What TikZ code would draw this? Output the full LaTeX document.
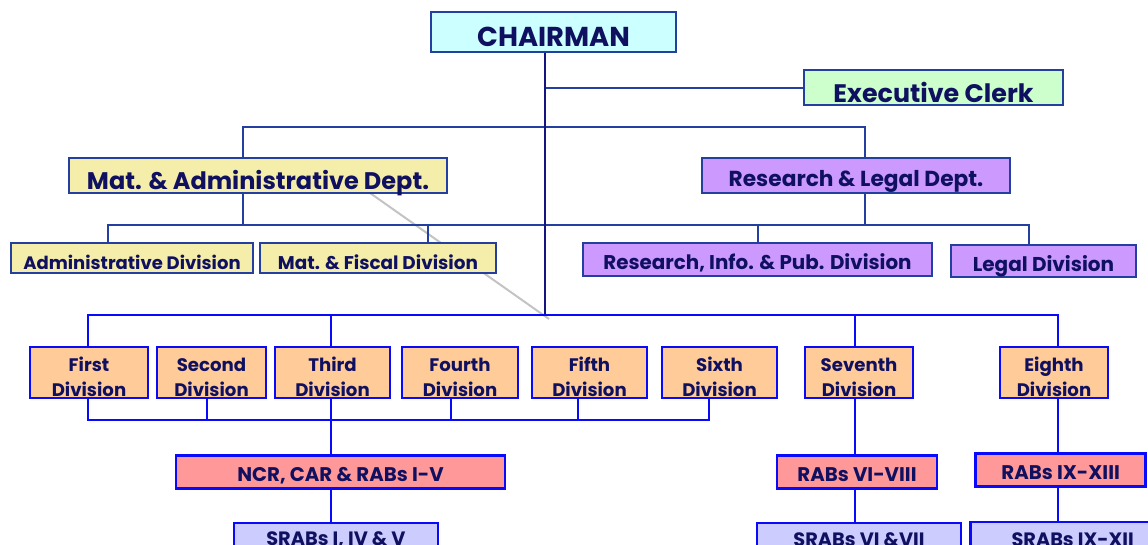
\documentclass[tikz,border=0pt]{standalone}
\usepackage{fontspec}
\setmainfont{Poppins}
\usetikzlibrary{positioning}

\definecolor{ink}{RGB}{16,16,96}
\definecolor{upline}{RGB}{35,64,160}
\definecolor{trunkline}{RGB}{20,20,130}
\definecolor{lowline}{RGB}{10,10,250}
\definecolor{stray}{RGB}{195,195,195}
\definecolor{chairfill}{HTML}{CCFFFF}
\definecolor{clerkfill}{HTML}{CCFFCC}
\definecolor{matfill}{HTML}{F5EEAA}
\definecolor{resfill}{HTML}{CC99FF}
\definecolor{divfill}{HTML}{FFCC99}
\definecolor{rabfill}{HTML}{FF9999}
\definecolor{srabfill}{HTML}{CCCCFF}

\begin{document}
\begin{tikzpicture}[
    x=0.75pt, y=0.75pt,
    box/.style={
        rectangle,
        draw=upline, line width=1.5pt,
        text=ink, text centered,
        inner sep=0pt
    },
    sink/.style={text depth=0pt, text height=#1},
    lowbox/.style={box, draw=lowline, line width=1.8pt},
    dept/.style={box, minimum height=26.25pt, font=\bfseries\fontsize{18}{21}\selectfont},
    unit/.style={box, font=\bfseries\fontsize{13.5}{16}\selectfont},
    divbox/.style={lowbox, fill=divfill, align=center, minimum height=38.25pt,
        sink=36pt, font=\bfseries\fontsize{13.6}{18.5}\selectfont},
    rabbox/.style={lowbox, fill=rabfill, minimum height=24.75pt, sink=14.9pt,
        font=\bfseries\fontsize{14.8}{17}\selectfont},
    srabbox/.style={lowbox, fill=srabfill, minimum width=153pt, minimum height=26pt,
        font=\bfseries\fontsize{14.5}{17}\selectfont},
    upwire/.style={draw=upline, line width=1.5pt},
    lowwire/.style={draw=lowline, line width=1.8pt}
]

\useasboundingbox (0,0) rectangle (1148,-544);

\draw[stray, line width=1.5pt] (370,-193) -- (549,-319);

\node[box, fill=chairfill, minimum width=183.75pt, minimum height=30pt, sink=21pt,
    font=\bfseries\fontsize{20.5}{24}\selectfont] (chair) at (553.5,-32) {CHAIRMAN};
\node[box, fill=clerkfill, minimum width=194.25pt, minimum height=26.25pt, sink=22pt,
    font=\bfseries\fontsize{19}{22}\selectfont] (clerk) at (933.5,-87.5) {Executive Clerk};

\node[dept, fill=matfill, minimum width=283.5pt, sink=20.8pt] (matdept) at (258,-175.5) {Mat. \& Administrative Dept.};
\node[dept, fill=resfill, minimum width=231pt, sink=16.6pt, font=\bfseries\fontsize{16.3}{19}\selectfont] (resdept) at (856,-175.5) {Research \& Legal Dept.};

\node[unit, fill=matfill, minimum width=181.5pt, minimum height=22.5pt, sink=17pt] (admdiv) at (132,-258) {Administrative Division};
\node[unit, fill=matfill, minimum width=177pt, minimum height=22.5pt, sink=17pt,
    font=\bfseries\fontsize{13.8}{16}\selectfont] (fisdiv) at (378,-258) {Mat. \& Fiscal Division};
\node[unit, fill=resfill, minimum width=261.75pt, minimum height=24.75pt, sink=15.6pt,
    font=\bfseries\fontsize{14.9}{17}\selectfont] (infdiv) at (757.5,-259.5) {Research, Info. \& Pub. Division};
\node[unit, fill=resfill, minimum width=138.75pt, minimum height=24pt, sink=15.7pt,
    font=\bfseries\fontsize{15}{17}\selectfont] (legdiv) at (1043.5,-261) {Legal Division};

\foreach \n/\t/\x/\w in {first/First/89/88.5, second/Second/211.5/81.75, third/Third/332.5/86.25,
    fourth/Fourth/460/87, fifth/Fifth/589.5/86.25, sixth/Sixth/719.5/86.25,
    seventh/Seventh/859/81, eighth/Eighth/1054/81}
    \node[divbox, minimum width=\w pt] (\n) at (\x,-372.5) {\t\\Division};

\node[rabbox, minimum width=246.75pt, below=41.25pt of third, xshift=6pt] (ncr) {NCR, CAR \& RABs I-V};
\node[rabbox, minimum width=120pt, below=41.25pt of seventh, xshift=-1.5pt] (rab6) {RABs VI-VIII};
\node[rabbox, minimum width=127.5pt, below=39.75pt of eighth, xshift=5pt] (rab9) {RABs IX-XIII};

\node[srabbox, below=24pt of ncr, xshift=-3.4pt] (srab1) {SRABs I, IV \& V};
\node[srabbox, below=24pt of rab6, xshift=1.5pt] (srab6) {SRABs VI \&VII};
\node[srabbox, below=25pt of rab9, xshift=9pt] (srab9) {SRABs IX-XII};

\coordinate (hub) at (545,-315);
\coordinate (ua) at (243,-127);
\coordinate (ub) at (865,-127);
\coordinate (ma) at (108,-225);
\coordinate (mb) at (1029,-225);
\coordinate (la) at (88,-315);
\coordinate (lb) at (1058,-315);
\coordinate (ba) at (88,-420);
\coordinate (bb) at (709,-420);

\draw[upwire] (clerk.west) -- (clerk.west -| hub);
\draw[upwire] (matdept.north -| ua) -- (ua) -- (ub) -- (resdept.north -| ub);
\draw[upwire] (admdiv.north -| ma) -- (ma) -- (mb) -- (legdiv.north -| mb);
\draw[upwire] (matdept.south -| ua) -- (ma -| ua);
\draw[upwire] (resdept.south -| ub) -- (ma -| ub);
\draw[upwire] (fisdiv.north -| 428,0) -- (428,-225);
\draw[upwire] (infdiv.north) -- (infdiv.north |- ma);
\draw[trunkline, line width=2.2pt] (chair.south -| hub) -- (hub);

\draw[lowwire] (first.north -| la) -- (la) -- (lb) -- (eighth.north -| lb);
\draw[lowwire] (third.north -| 331,0) -- (331,-315);
\draw[lowwire] (seventh.north -| 855,0) -- (855,-315);

\draw[lowwire] (first.south -| ba) -- (ba) -- (bb) -- (sixth.south -| bb);
\foreach \n/\x in {second/207, fourth/451, fifth/578}
    \draw[lowwire] (\n.south -| \x,0) -- (\x,-420);

\draw[lowwire] (third.south -| 331,0) -- (ncr.north -| 331,0);
\draw[lowwire] (ncr.south -| 331,0) -- (srab1.north -| 331,0);
\draw[lowwire] (seventh.south -| 855,0) -- (rab6.north -| 855,0);
\draw[lowwire] (rab6.south -| 855,0) -- (srab6.north -| 855,0);
\draw[lowwire] (eighth.south -| 1058,0) -- (rab9.north -| 1058,0);
\draw[lowwire] (rab9.south -| 1058,0) -- (srab9.north -| 1058,0);

\end{tikzpicture}
\end{document}
